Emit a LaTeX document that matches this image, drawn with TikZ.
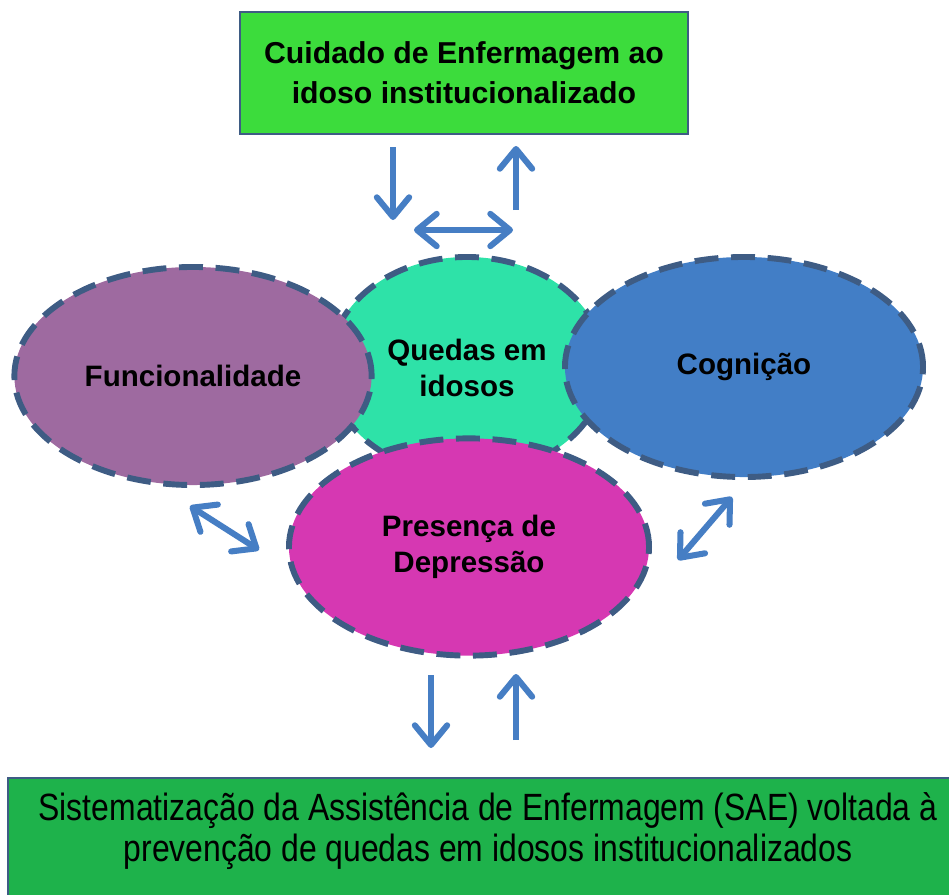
\documentclass[tikz,border=0pt]{standalone}
\usepackage{fontspec}
\setmainfont{Liberation Sans}
\newfontfamily\narrowfont[FakeStretch=0.84]{Liberation Sans}
\usepackage{tikz}
\usetikzlibrary{arrows.meta,positioning,shapes.geometric}
\definecolor{boxgreen}{RGB}{60,220,60}
\definecolor{saegreen}{RGB}{30,178,75}
\definecolor{edgeblue}{RGB}{62,92,132}
\definecolor{arrowblue}{RGB}{70,126,196}
\definecolor{quedasteal}{RGB}{46,226,168}
\definecolor{funcpurple}{RGB}{158,106,160}
\definecolor{cogblue}{RGB}{66,126,198}
\definecolor{deprmagenta}{RGB}{214,56,178}
\tikzstyle{topic}=[ellipse,draw=edgeblue,line width=4.2pt,dash pattern=on 17pt off 9pt,font=\bfseries\fontsize{21}{26}\selectfont,align=center,inner sep=0pt]
\tikzstyle{careblock}=[rectangle,draw=edgeblue,line width=2pt,fill=boxgreen,font=\bfseries\fontsize{21.5}{28.5}\selectfont,align=center]
\tikzstyle{flow}=[arrowblue,line width=4.3pt,>={Straight Barb[length=14pt,width=23pt,round]}]

\begin{document}
\begin{tikzpicture}[x=0.025cm,y=-0.025cm]
\clip (0,0) rectangle (949,895);
\draw (464,73) node [careblock,minimum width=11.2cm,minimum height=3.05cm] (care) {Cuidado de Enfermagem ao\\idoso institucionalizado};
\draw (467,366) node [topic,fill=quedasteal,minimum width=6.9cm,minimum height=5.45cm] (quedas) {};
\draw (193,376) node [topic,fill=funcpurple,minimum width=8.93cm,minimum height=5.45cm] (func) {Funcionalidade};
\draw (744,367) node [topic,fill=cogblue,minimum width=8.95cm,minimum height=5.5cm] (cog) {Cognição};
\draw (469,547) node [topic,fill=deprmagenta,minimum width=9cm,minimum height=5.43cm] (depr) {};
\draw (467,368) node [font=\bfseries\fontsize{21}{26}\selectfont,align=center] (quedastxt) {Quedas em\\idosos};
\draw (469,547) node [font=\bfseries\fontsize{21}{26}\selectfont,align=center] (deprtxt) {Presença de\\Depressão};
\draw [draw=edgeblue,line width=1.5pt,fill=saegreen] (8,778) rectangle (975,910);
\draw (488,831) node [font=\narrowfont\fontsize{27}{29}\selectfont,align=center] (sae) {Sistematização da Assistência de Enfermagem (SAE) voltada à\\prevenção de quedas em idosos institucionalizados};
% loose arrows
\coordinate (d1a) at (393,147);
\coordinate (d1b) at (393,220);
\coordinate (u1a) at (516,210);
\coordinate (u1b) at (516,146);
\coordinate (h1a) at (414,230);
\coordinate (h1b) at (513,230);
\coordinate (l1a) at (190,506);
\coordinate (l1b) at (259,550);
\coordinate (r1a) at (732,497);
\coordinate (r1b) at (678,560);
\coordinate (d2a) at (431,675);
\coordinate (d2b) at (431,748);
\coordinate (u2a) at (516,740);
\coordinate (u2b) at (516,674);
\draw[flow,->] (d1a) -- (d1b);
\draw[flow,->] (u1a) -- (u1b);
\draw[flow,<->] (h1a) -- (h1b);
\draw[flow,<->] (l1a) -- (l1b);
\draw[flow,<->] (r1a) -- (r1b);
\draw[flow,->] (d2a) -- (d2b);
\draw[flow,->] (u2a) -- (u2b);
\end{tikzpicture}
\end{document}
